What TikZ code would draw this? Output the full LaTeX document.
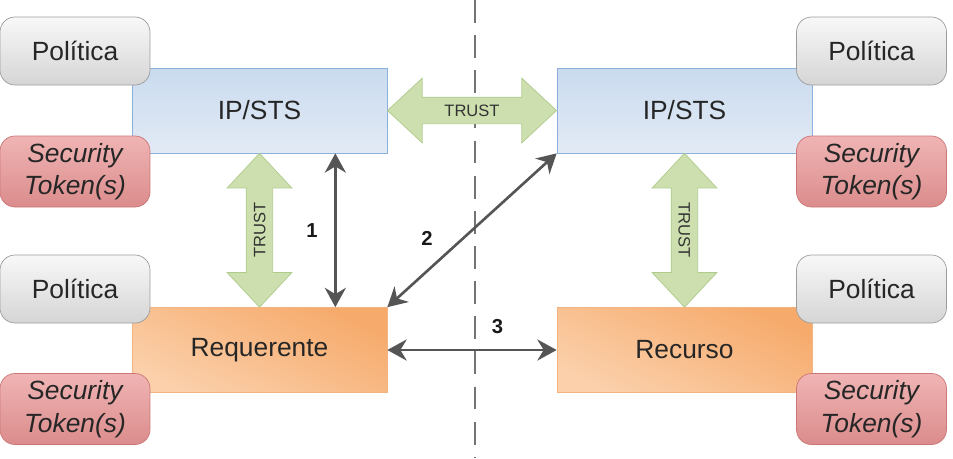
\documentclass[tikz,border=0pt]{standalone}
\usepackage{fontspec}
\setmainfont{Liberation Sans}
\usetikzlibrary{arrows.meta,shapes.arrows,calc}
\definecolor{ststop}{HTML}{CADBEF}
\definecolor{stsbot}{HTML}{E2EAF5}
\definecolor{stsline}{HTML}{8CB0DD}
\definecolor{reqtop}{HTML}{F6AA6B}
\definecolor{reqbot}{HTML}{FBD0AB}
\definecolor{reqline}{HTML}{F4B482}
\definecolor{poltop}{HTML}{F8F8F8}
\definecolor{polbot}{HTML}{D5D5D5}
\definecolor{polline}{HTML}{9C9C9C}
\definecolor{toktop}{HTML}{F0B4B4}
\definecolor{tokbot}{HTML}{DB8C8C}
\definecolor{tokline}{HTML}{CC7676}
\definecolor{trustfill}{HTML}{CDDFAE}
\definecolor{trustline}{HTML}{AECB8C}
\definecolor{msgcol}{HTML}{555555}
\definecolor{bordercol}{HTML}{737373}
\begin{document}
\begin{tikzpicture}[x=0.02cm,y=-0.02cm,
	mainbox/.style={draw, minimum width=5.1cm, minimum height=1.7cm, font=\fontsize{15}{18}\selectfont, text=black!85},
	sts/.style={mainbox, draw=stsline, top color=ststop, bottom color=stsbot},
	party/.style={mainbox, draw=reqline, top color=reqtop, bottom color=reqbot, shading angle=-25},
	polbox/.style={draw=polline, rounded corners=0.3cm, minimum width=3cm, minimum height=1.36cm, top color=poltop, bottom color=polbot, font=\fontsize{15}{18}\selectfont, text=black!85},
	tokbox/.style={draw=tokline, rounded corners=0.3cm, minimum width=3cm, minimum height=1.42cm, top color=toktop, bottom color=tokbot, align=center, inner sep=0pt, font=\itshape\fontsize{15}{18.5}\selectfont, text=black!85},
	trust/.style={double arrow, draw=trustline, fill=trustfill, double arrow head extend=0.38cm, double arrow tip angle=86, inner xsep=0pt, inner ysep=4pt, text height=6.8pt, text depth=0pt, font=\fontsize{9.4}{10}\selectfont, text=black!80},
	msg/.style={draw=msgcol, line width=1.5pt, >={Stealth[length=11pt,width=12pt]}, <->},
	num/.style={font=\bfseries\fontsize{11.5}{13}\selectfont, text=black!90}
]
	\useasboundingbox (0,0) rectangle (953,458);
	% border between the two domains
	\draw [bordercol, line width=1.6pt, dash pattern=on 13pt off 7pt] (475,0) -- (475,458);

	% main parties
	\node [sts] (ipl) at (259.5,110.5) {IP/STS};
	\node [sts] (ipr) at (684.5,110.5) {IP/STS};
	\node [party] (req) at (259.5,350) {Requerente};
	\node [party] (rec) at (684.5,350) {Recurso};

	% policies and tokens
	\node [polbox] (pol1) at (75,51) {Política};
	\node [tokbox] (tok1) at (75,171.5) {Security\\Token(s)};
	\node [polbox] (pol2) at (75,289) {Política};
	\node [tokbox] (tok2) at (75,409) {Security\\Token(s)};
	\node [polbox] (pol3) at (871.5,51) {Política};
	\node [tokbox] (tok3) at (871.5,171.5) {Security\\Token(s)};
	\node [polbox] (pol4) at (871.5,289) {Política};
	\node [tokbox] (tok4) at (871.5,409) {Security\\Token(s)};

	% trust relations
	\node [trust, minimum height=3.38cm] (t0) at ($(ipl.east)!0.5!(ipr.west)$) {TRUST};
	\node [trust, minimum height=3.08cm, rotate=90] (t1) at ($(ipl.south)!0.5!(req.north)$) {TRUST};
	\node [trust, minimum height=3.08cm, rotate=-90] (t2) at ($(ipr.south)!0.5!(rec.north)$) {TRUST};

	% messages
	\draw [msg] ([xshift=-1.04cm]ipl.south east) -- ([xshift=-1.04cm]req.north east) node [num, midway, left=6pt] {1};
	\draw [msg] (req.north east) -- (ipr.south west) node [num, pos=0.33, above left=2pt] {2};
	\draw [msg] (req.east) -- (rec.west) node [num, pos=0.65, above=5pt] {3};
\end{tikzpicture}
\end{document}
